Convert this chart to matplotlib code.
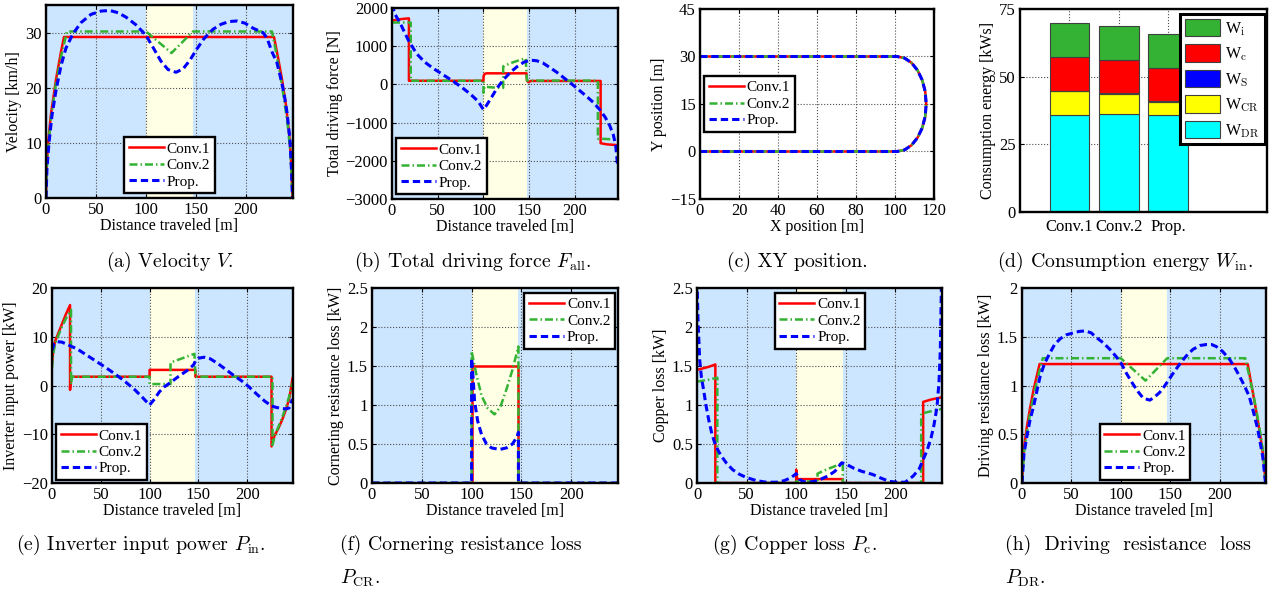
import matplotlib
matplotlib.use('Agg')
import matplotlib.pyplot as plt

plt.rcParams['font.family'] = ['Liberation Serif', 'DejaVu Serif']
plt.rcParams['mathtext.fontset'] = 'cm'

# ---------------- data ----------------
STRAIGHT_END = 100
CURVE_END = 147
X_MAX = 247

# (a) velocity [km/h]
a_c1_x = [0, 0.5, 2, 5, 10, 15, 18, 228, 232, 236, 240, 243, 245, 246.5]
a_c1_y = [0, 5, 9.8, 15.3, 21.5, 26.5, 29.2, 29.2, 25.5, 21.5, 16.8, 12, 7, 0]
a_c2_x = [0, 0.5, 2, 5, 10, 15, 21, 100, 125.5, 147, 226, 230, 234, 238, 241.5, 244, 245.5, 246.5]
a_c2_y = [0, 4.5, 9, 14.5, 20.8, 25.6, 30.2, 30.2, 26.3, 30.2, 30.2, 26.5, 22.5, 18, 13.5, 9, 4.5, 0]
a_pr_x = [0, 1, 3, 6, 10, 15, 20, 27, 35, 45, 55, 64, 72, 80, 90, 100, 108, 115, 122, 130,
          137, 144, 150, 158, 167, 175, 183, 191, 199, 207, 212, 217, 221, 226, 231, 235, 238,
          241, 244, 245.5, 246.5]
a_pr_y = [0, 5.5, 10, 15, 19.5, 24, 27.2, 29.8, 31.8, 33.3, 33.9, 34.0, 33.6, 32.8, 31.4, 29.5,
          27, 24.8, 23.3, 22.8, 23.4, 25, 26.8, 28.9, 30.6, 31.5, 32, 32.1, 31.7, 30.8, 30.4,
          30, 29, 26.5, 24.5, 21.5, 19, 15.5, 10.5, 5, 0]

# (b) total driving force [N]
b_c1_x = [0, 5, 10, 18.5, 18.5, 100, 100, 101, 103, 147, 147.5, 149, 152, 228, 228, 235, 247]
b_c1_y = [1670, 1690, 1710, 1730, 95, 95, 200, 270, 290, 290, 100, 60, 90, 90, -1540, -1570, -1590]
b_c2_x = [0, 10, 20.5, 20.5, 100, 100, 101, 110, 121.5, 121.5, 130, 140, 146, 147.5, 225, 225, 235, 247]
b_c2_y = [1620, 1620, 1620, 95, 95, -220, -60, -80, -90, 470, 560, 640, 680, 100, 100, -1420, -1430, -1450]
b_pr_x = [0, 3, 9, 18, 27, 36, 45, 56, 67, 77, 86, 94, 100, 103, 109, 115, 122, 130, 137, 144,
          151, 158, 165, 172, 180, 188, 196, 204, 212, 220, 227, 233, 238, 242, 244.5, 246.5]
b_pr_y = [2100, 1850, 1600, 1150, 800, 580, 420, 250, 80, -90, -260, -440, -660, -560, -330,
          -90, 130, 330, 470, 580, 635, 620, 560, 450, 320, 170, 20, -140, -300, -470, -660,
          -860, -1080, -1330, -1600, -2100]

# (c) XY track [m]
c_x = [0, 101, 104.9, 108.5, 111.6, 114.0, 115.5, 116, 115.5, 114.0, 111.6, 108.5, 104.9, 101, 0]
c_y = [30, 30, 29.5, 28.0, 25.6, 22.5, 18.9, 15, 11.1, 7.5, 4.4, 2.0, 0.5, 0, 0]

# (d) consumption energy [kWs]
d_labels = ['Conv.1', 'Conv.2', 'Prop.']
W_DR = [35.8, 36.1, 35.8]
W_CR = [8.9, 7.6, 5.0]
W_S = [0.15, 0.15, 0.15]
W_c = [12.25, 12.15, 12.15]
W_i = [12.6, 12.7, 12.7]

# (e) inverter input power [kW]
e_c1_x = [0, 1, 3, 6, 10, 14, 18.5, 18.5, 19.5, 100, 100, 147, 147, 225, 225, 228, 232, 236, 240, 243, 245, 246.5]
e_c1_y = [4.5, 6.5, 9, 10.5, 12.5, 14.5, 16.5, -0.9, 1.8, 1.8, 3.2, 3.2, 1.8, 1.8, -12.5, -10.3, -8.8, -7, -4.8, -2.8, -0.5, 1.5]
e_c2_x = [0, 1, 3, 6, 10, 15, 19.5, 19.5, 20.5, 100, 100, 121.5, 121.5, 146, 147, 226, 226, 228, 232, 236, 240, 243, 245, 246.5]
e_c2_y = [3.5, 6, 8.5, 10, 12, 14, 15.5, 0.2, 1.8, 1.8, 0.3, 0.3, 4.7, 6.5, 1.8, 1.8, -12.2, -10.5, -8.5, -6.5, -4.3, -2.3, -0.5, 0.5]
e_pr_x = [0, 2, 5, 10, 15, 20, 25, 35, 45, 55, 65, 75, 85, 93, 100, 105, 110, 115, 122, 130, 138,
          145, 147, 150, 156, 162, 170, 178, 186, 194, 202, 210, 218, 225, 230, 235, 240, 243, 245, 246.5]
e_pr_y = [7.2, 8.5, 9.0, 8.9, 8.5, 8.0, 7.6, 6.3, 5.0, 3.7, 2.3, 0.8, -0.9, -2.5, -4.0, -2.8, -1.3,
          -0.3, 0.7, 1.9, 3.0, 4.2, 5.0, 5.6, 5.8, 5.5, 4.5, 3.3, 2.1, 1.0, -0.3, -1.8, -3.2, -4.2,
          -4.5, -4.7, -4.8, -4.6, -3.5, -2.8]

# (f) cornering resistance loss [kW]
f_c1_x = [0, 100, 100, 147, 147, 247]
f_c1_y = [0, 0, 1.5, 1.5, 0, 0]
f_c2_x = [0, 100, 100, 105, 110, 116, 123, 129, 135, 141, 147, 147, 247]
f_c2_y = [0, 0, 1.69, 1.38, 1.12, 0.96, 0.88, 0.98, 1.2, 1.45, 1.75, 0, 0]
f_pr_x = [0, 100, 100, 101.5, 103, 106, 110, 115, 120, 128, 135, 141, 146, 147, 147, 247]
f_pr_y = [0, 0, 1.6, 1.35, 1.05, 0.8, 0.62, 0.5, 0.45, 0.43, 0.45, 0.5, 0.6, 0.65, 0, 0]

# (g) copper loss [kW]
g_c1_x = [0, 6, 12, 18.5, 18.5, 100, 100, 101, 147, 147, 228, 228, 236, 247]
g_c1_y = [1.45, 1.47, 1.49, 1.52, 0, 0, 0.17, 0.05, 0.05, 0, 0, 1.04, 1.07, 1.1]
g_c2_x = [0, 10, 20.5, 20.5, 100, 100, 121.5, 121.5, 130, 140, 147, 147, 226, 226, 236, 247]
g_c2_y = [1.3, 1.32, 1.35, 0, 0, 0.02, 0.02, 0.12, 0.17, 0.22, 0.26, 0, 0, 0.89, 0.92, 0.95]
g_pr_x = [0, 1, 2.7, 4.5, 6.7, 9, 11.8, 15, 18.5, 22, 26, 30, 36, 43, 50, 60, 70, 80, 88, 95, 100,
          103, 107, 112, 118, 125, 132, 139, 146, 152, 158, 166, 177, 186, 194, 202, 210, 218,
          224, 228, 232, 236, 239, 242, 244, 245.3, 246.5]
g_pr_y = [2.6, 2.1, 1.58, 1.35, 1.19, 1.0, 0.81, 0.63, 0.49, 0.4, 0.32, 0.25, 0.17, 0.11, 0.07,
          0.03, 0.01, 0.01, 0.03, 0.07, 0.12, 0.05, 0.02, 0.01, 0.02, 0.05, 0.09, 0.15, 0.26,
          0.23, 0.19, 0.15, 0.11, 0.06, 0.02, 0.01, 0.01, 0.09, 0.18, 0.3, 0.42, 0.58, 0.75,
          0.98, 1.3, 1.7, 2.6]

# (h) driving resistance loss [kW]
h_c1_x = [0, 1.7, 5, 8, 11.8, 15, 17.8, 228.5, 232, 236, 240, 243, 245, 246.5]
h_c1_y = [0, 0.34, 0.58, 0.76, 0.96, 1.1, 1.22, 1.22, 1.02, 0.8, 0.56, 0.37, 0.2, 0]
h_c2_x = [0, 2, 5, 9, 13, 17, 21, 100, 125, 147, 226, 230, 234, 238, 241.5, 244, 245.5, 246.5]
h_c2_y = [0, 0.3, 0.52, 0.76, 0.95, 1.12, 1.28, 1.28, 1.05, 1.28, 1.28, 1.1, 0.92, 0.7, 0.5, 0.32, 0.15, 0]
h_pr_x = [0, 2, 5, 8, 11.8, 15, 18.5, 23, 28.6, 33, 38.7, 45, 52, 58, 64, 70, 75.6, 82, 89, 95,
          100.8, 106, 112.6, 118, 122.7, 129.4, 134, 139.5, 144, 148, 154, 159.7, 166, 173, 180,
          186.5, 192, 196.6, 203, 210, 215, 220, 225, 230, 234, 238.7, 241, 243.7, 246.5]
h_pr_y = [0, 0.3, 0.48, 0.64, 0.79, 0.94, 1.1, 1.23, 1.34, 1.42, 1.48, 1.52, 1.54, 1.555, 1.56,
          1.54, 1.49, 1.44, 1.37, 1.3, 1.22, 1.12, 1.01, 0.93, 0.87, 0.85, 0.88, 0.93, 0.99, 1.05,
          1.14, 1.22, 1.3, 1.37, 1.41, 1.42, 1.42, 1.4, 1.35, 1.27, 1.19, 1.1, 1.0, 0.89, 0.74,
          0.55, 0.42, 0.27, 0]

# ---------------- styling ----------------
RED = '#ff0000'
GREEN = '#33b233'
BLUE = '#0000ff'
BLUE_BG = '#cce6ff'
YELLOW_BG = '#ffffe6'
TICK_FS = 12
LAB_FS = 11.5
LEG_FS = 11
CAP_FS = 14.3

W, H = 1280, 596
fig = plt.figure(figsize=(W / 100, H / 100), dpi=100)


def make_ax(l, r, t, b):
    return fig.add_axes([l / W, 1 - b / H, (r - l) / W, (b - t) / H])


def style(ax):
    for s in ax.spines.values():
        s.set_linewidth(1.7)
        s.set_zorder(10)
    ax.tick_params(direction='in', top=True, right=True, length=3, width=0.8,
                   labelsize=TICK_FS, pad=3)
    ax.grid(True, ls=':', color='0.3', lw=0.8)


def bg(ax):
    ax.axvspan(0, STRAIGHT_END, color=BLUE_BG, lw=0, zorder=0)
    ax.axvspan(STRAIGHT_END, CURVE_END, color=YELLOW_BG, lw=0, zorder=0)
    ax.axvspan(CURVE_END, X_MAX, color=BLUE_BG, lw=0, zorder=0)


def lines(ax, c1x, c1y, c2x, c2y, px, py):
    ax.plot(c1x, c1y, color=RED, lw=1.8, label='Conv.1', zorder=3)
    ax.plot(c2x, c2y, color=GREEN, lw=1.8, dashes=(3.2, 1.2, 0.6, 1.2), label='Conv.2', zorder=4)
    ax.plot(px, py, color=BLUE, lw=2.2, dashes=(2.4, 1.3), label='Prop.', zorder=5)


def legend(ax, loc, anchor, **kw):
    opts = dict(fontsize=LEG_FS, fancybox=False, framealpha=1, edgecolor='black',
                borderpad=0.3, handlelength=2.3, handletextpad=0.2, labelspacing=0.18,
                borderaxespad=0)
    opts.update(kw)
    leg = ax.legend(loc=loc, bbox_to_anchor=anchor, **opts)
    leg.get_frame().set_linewidth(1.7)
    leg.set_zorder(20)
    return leg


def dist_ax(ax, ylim, yticks, ylabel):
    bg(ax)
    ax.set_xlim(0, X_MAX)
    ax.set_xticks([0, 50, 100, 150, 200])
    ax.set_ylim(*ylim)
    ax.set_yticks(yticks)
    ax.set_xlabel('Distance traveled [m]', fontsize=LAB_FS, labelpad=0)
    ax.set_ylabel(ylabel, fontsize=LAB_FS, labelpad=2)
    style(ax)


# (a)
ax = make_ax(46, 293, 5, 198)
dist_ax(ax, (0, 35), [0, 10, 20, 30], 'Velocity [km/h]')
lines(ax, a_c1_x, a_c1_y, a_c2_x, a_c2_y, a_pr_x, a_pr_y)
legend(ax, 'lower center', (0.5, 0.025))

# (b)
ax = make_ax(392, 618, 8, 199)
dist_ax(ax, (-3000, 2000), [-3000, -2000, -1000, 0, 1000, 2000], 'Total driving force [N]')
lines(ax, b_c1_x, b_c1_y, b_c2_x, b_c2_y, b_pr_x, b_pr_y)
legend(ax, 'lower left', (0.018, 0.025))

# (c)
ax = make_ax(700, 934, 9, 199)
ax.plot(c_x, c_y, color=RED, lw=1.8, label='Conv.1', zorder=3)
ax.plot(c_x, c_y, color=GREEN, lw=1.8, dashes=(3.2, 1.2, 0.6, 1.2), label='Conv.2', zorder=4)
ax.plot(c_x, c_y, color=BLUE, lw=2.2, dashes=(2.4, 1.3), label='Prop.', zorder=5)
ax.set_xlim(0, 120)
ax.set_xticks([0, 20, 40, 60, 80, 100, 120])
ax.set_ylim(-15, 45)
ax.set_yticks([-15, 0, 15, 30, 45])
ax.set_xlabel('X position [m]', fontsize=LAB_FS, labelpad=0)
ax.set_ylabel('Y position [m]', fontsize=LAB_FS, labelpad=2)
style(ax)
legend(ax, 'center left', (0.017, 0.5))

# (d)
ax = make_ax(1020, 1267, 9, 212)
xpos = [1, 2, 3]
bottom = [0, 0, 0]
handles = []
for vals, col, lab in [(W_DR, '#00ffff', 'W$_{\\rm DR}$'), (W_CR, '#ffff00', 'W$_{\\rm CR}$'),
                       (W_S, '#0000ff', 'W$_{\\rm S}$'), (W_c, '#ff0000', 'W$_{\\rm c}$'),
                       (W_i, '#33b233', 'W$_{\\rm i}$')]:
    h = ax.bar(xpos, vals, 0.8, bottom=bottom, color=col, edgecolor='0.25', lw=0.8,
               label=lab, zorder=3)
    handles.append(h)
    bottom = [b + v for b, v in zip(bottom, vals)]
ax.set_xlim(0, 5)
ax.set_xticks(xpos)
ax.set_xticklabels(d_labels)
ax.set_ylim(0, 75)
ax.set_yticks([0, 25, 50, 75])
ax.set_ylabel('Consumption energy [kWs]', fontsize=LAB_FS, labelpad=2)
style(ax)
ax.set_axisbelow(True)
ax.tick_params(axis='x', length=0, pad=5)
leg = ax.legend(handles[::-1], [h.get_label() for h in handles[::-1]], loc='upper right',
                bbox_to_anchor=(0.99, 0.975), fontsize=11.5, fancybox=False, framealpha=1,
                edgecolor='black', borderpad=0.3, handlelength=2.2, handleheight=1.3,
                handletextpad=0.3, labelspacing=0.42, borderaxespad=0)
leg.get_frame().set_linewidth(2.2)

# (e)
ax = make_ax(52, 293, 288, 483)
dist_ax(ax, (-20, 20), [-20, -10, 0, 10, 20], 'Inverter input power [kW]')
lines(ax, e_c1_x, e_c1_y, e_c2_x, e_c2_y, e_pr_x, e_pr_y)
legend(ax, 'lower left', (0.017, 0.015))

# (f)
ax = make_ax(372, 618, 288, 483)
dist_ax(ax, (0, 2.5), [0, 0.5, 1, 1.5, 2, 2.5], 'Cornering resistance loss [kW]')
lines(ax, f_c1_x, f_c1_y, f_c2_x, f_c2_y, f_pr_x, f_pr_y)
ax.set_yticklabels(['0', '0.5', '1', '1.5', '2', '2.5'])
legend(ax, 'upper right', (0.988, 0.974))

# (g)
ax = make_ax(697, 942, 288, 483)
dist_ax(ax, (0, 2.5), [0, 0.5, 1, 1.5, 2, 2.5], 'Copper loss [kW]')
lines(ax, g_c1_x, g_c1_y, g_c2_x, g_c2_y, g_pr_x, g_pr_y)
ax.set_yticklabels(['0', '0.5', '1', '1.5', '2', '2.5'])
legend(ax, 'upper center', (0.502, 0.974))

# (h)
ax = make_ax(1022, 1266, 288, 483)
dist_ax(ax, (0, 2), [0, 0.5, 1, 1.5, 2], 'Driving resistance loss [kW]')
lines(ax, h_c1_x, h_c1_y, h_c2_x, h_c2_y, h_pr_x, h_pr_y)
ax.set_yticklabels(['0', '0.5', '1', '1.5', '2'])
legend(ax, 'lower center', (0.504, 0.015))

# captions
def cap(x, y, s, ha='center'):
    fig.text(x / W, 1 - y / H, s, ha=ha, va='center', fontsize=CAP_FS, family='cmr10')

cap(170, 262, r'(a) Velocity $V$.')
cap(473, 262, r'(b) Total driving force $F_{\mathrm{all}}$.')
cap(797, 262, r'(c) XY position.')
cap(1125, 262, r'(d) Consumption energy $W_{\mathrm{in}}$.')
cap(141, 545, r'(e) Inverter input power $P_{\mathrm{in}}$.')
cap(340, 545, r'(f) Cornering resistance loss', ha='left')
cap(340, 578, r'$P_{\mathrm{CR}}$.', ha='left')
cap(795, 545, r'(g) Copper loss $P_{\mathrm{c}}$.')
cap(1005, 545, r'(h)  Driving  resistance  loss', ha='left')
cap(1005, 578, r'$P_{\mathrm{DR}}$.', ha='left')

fig.savefig('out.png', dpi=100)
